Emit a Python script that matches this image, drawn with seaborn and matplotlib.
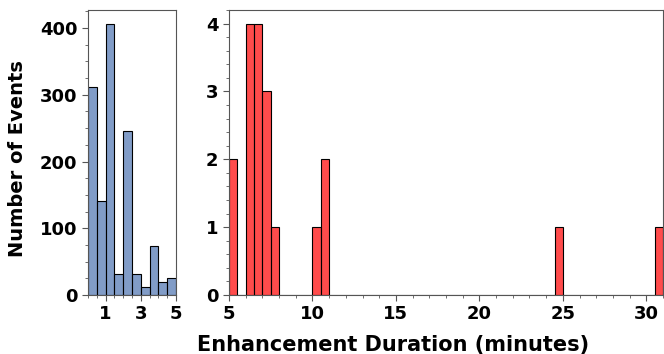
import numpy as np
import pandas as pd
import matplotlib
matplotlib.use("Agg")
import matplotlib.pyplot as plt
from matplotlib.ticker import AutoMinorLocator, MultipleLocator
import seaborn as sns

sns.set_style("ticks")
plt.rcParams["font.family"] = ["DejaVu Sans"]
plt.rcParams["font.weight"] = "bold"
plt.rcParams["text.color"] = "black"
plt.rcParams["xtick.color"] = "#555555"
plt.rcParams["ytick.color"] = "#555555"
plt.rcParams["xtick.labelcolor"] = "black"
plt.rcParams["ytick.labelcolor"] = "black"

# short events: 0-5 minutes, 0.5 min bins
short_edges = [0.0, 0.5, 1.0, 1.5, 2.0, 2.5, 3.0, 3.5, 4.0, 4.5, 5.0]
short_counts = [312, 141, 406, 31, 246, 32, 12, 73, 20, 25]

# long events: 5-31 minutes, 0.5 min bins
long_bins = [5.0, 6.0, 6.5, 7.0, 7.5, 10.0, 10.5, 24.5, 30.5]
long_counts = [2, 4, 4, 3, 1, 1, 2, 1, 1]
long_edges = [float(v) for v in np.arange(5, 31.01, 0.5)]

short_df = pd.DataFrame({"dur": np.array(short_edges[:-1]) + 0.25, "n": short_counts})
long_df = pd.DataFrame({"dur": np.array(long_bins) + 0.25, "n": long_counts})

fig = plt.figure(figsize=(6.64, 3.54), dpi=100)
ax1 = fig.add_axes([88 / 664, 59 / 354, 88 / 664, 285 / 354])
ax2 = fig.add_axes([229 / 664, 59 / 354, 434 / 664, 285 / 354])

sns.histplot(data=short_df, x="dur", weights="n", bins=short_edges, ax=ax1,
             color="#4C72B0", alpha=0.7, edgecolor="black", linewidth=0.8)
sns.histplot(data=long_df, x="dur", weights="n", bins=long_edges, ax=ax2,
             color="red", alpha=0.7, edgecolor="black", linewidth=0.8)

ax1.set_xlim(0, 5)
ax1.set_ylim(0, 427)
ax1.set_xticks([1, 3, 5])
ax1.xaxis.set_minor_locator(MultipleLocator(0.5))
ax1.yaxis.set_major_locator(MultipleLocator(100))
ax1.yaxis.set_minor_locator(AutoMinorLocator(4))

ax2.set_xlim(5, 31)
ax2.set_ylim(0, 4.2)
ax2.xaxis.set_major_locator(MultipleLocator(5))
ax2.xaxis.set_minor_locator(MultipleLocator(1))
ax2.yaxis.set_major_locator(MultipleLocator(1))
ax2.yaxis.set_minor_locator(AutoMinorLocator(5))

for ax in (ax1, ax2):
    ax.set_xlabel("")
    ax.set_ylabel("")
    ax.tick_params(axis="both", which="major", labelsize=13, length=4, width=0.8)
    ax.tick_params(axis="both", which="minor", length=2, width=0.6)
    for lab in ax.get_xticklabels() + ax.get_yticklabels():
        lab.set_fontweight("bold")
    for sp in ax.spines.values():
        sp.set_visible(True)
        sp.set_color("#555555")
        sp.set_linewidth(0.8)

fig.text(18 / 664, 1 - 159 / 354, "Number of Events", rotation=90, ha="center", va="center",
         fontsize=14, fontweight="bold")
fig.text(393 / 664, 9 / 354, "Enhancement Duration (minutes)", ha="center", va="center",
         fontsize=15, fontweight="bold")

fig.savefig("out.png", dpi=100)
